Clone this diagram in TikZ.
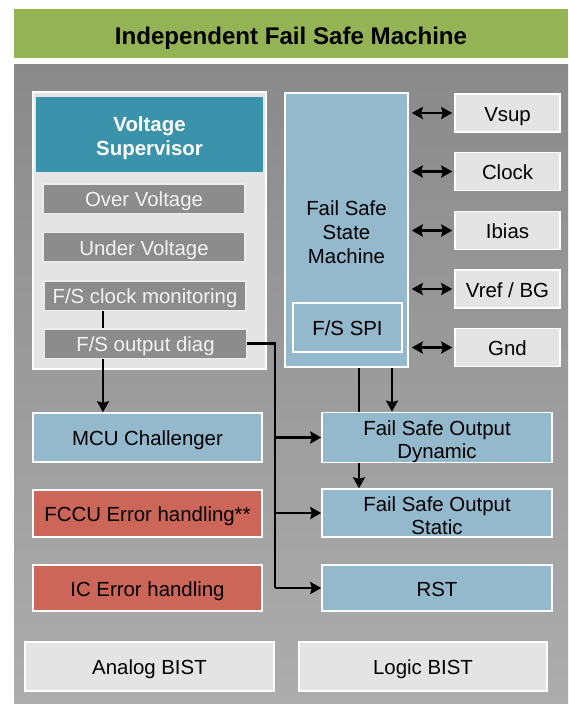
\documentclass[tikz,border=0pt]{standalone}
\usepackage{fontspec}
\setmainfont{Liberation Sans}
\usetikzlibrary{arrows.meta}
\definecolor{titlegreen}{HTML}{94B355}
\definecolor{headteal}{HTML}{3A93AB}
\definecolor{paleblue}{HTML}{94B8CC}
\definecolor{errred}{HTML}{CC6659}
\definecolor{lightbox}{HTML}{E4E4E4}
\definecolor{darkbox}{HTML}{8C8C8C}
\definecolor{bgtop}{HTML}{8A8A8A}
\definecolor{bgbottom}{HTML}{ADADAD}
% strut that lowers a multi-line label inside its box
\newcommand{\lowerby}[1]{\rule{0pt}{\dimexpr 15pt+#1\relax}}
\tikzset{
  blk/.style={draw=white, line width=1.5pt, inner sep=0pt, align=center,
    font=\fontsize{20.4}{23.5}\selectfont},
  oneline/.style={text height=20pt, text depth=3.2pt},
  bluebox/.style={blk, fill=paleblue},
  redbox/.style={blk, fill=errred},
  greybox/.style={blk, fill=lightbox},
  monbox/.style={blk, oneline, draw=white!92!black, fill=darkbox, text=white!95!black,
    minimum width=202pt, minimum height=29.5pt},
  pinbox/.style={greybox, oneline, minimum width=105pt, minimum height=38pt},
  wire/.style={line width=2.5pt, black},
  tip/.tip={Stealth[length=11pt,width=12pt,inset=1.5pt]},
  arr/.style={wire, -tip},
  darr/.style={wire, tip-tip, shorten <=3pt, shorten >=2pt}
}
\begin{document}
\begin{tikzpicture}[x=1pt,y=-1pt]
\useasboundingbox (0,0) rectangle (568,704);
\fill[white] (0,0) rectangle (568,704);

% title bar and shaded panel
\node[fill=titlegreen, minimum width=554pt, minimum height=49pt, inner sep=0pt,
  text height=26pt, text depth=3.4pt,
  font=\bfseries\fontsize{24.1}{28}\selectfont] (title) at (291,33.5)
  {Independent Fail Safe Machine};
\shade[top color=bgtop, bottom color=bgbottom] (14,64) rectangle (568,704);

% voltage supervisor block
\node[blk, fill=lightbox, minimum width=233pt, minimum height=277pt] (vs) at (149.5,230.5) {};
\node[fill=headteal, text=white, inner sep=0pt, align=center,
  font=\bfseries\fontsize{20.4}{24}\selectfont,
  minimum width=227pt, minimum height=75pt] (vshead) at (149.5,134.5)
  {\lowerby{8pt}Voltage\\Supervisor};
\node[monbox] (ov)  at (144,198.5) {Over Voltage};
\node[monbox] (uv)  at (144,247)   {Under Voltage};
\node[monbox] (clk) at (145,295.5) {F/S clock monitoring};
\node[monbox] (od)  at (145.5,343.5) {F/S output diag};

% fail safe state machine
\node[bluebox, minimum width=123pt, minimum height=274pt, font=\fontsize{20.4}{24}\selectfont]
  (fssm) at (346.5,230) {\lowerby{4pt}Fail Safe\\State\\Machine};
\node[bluebox, oneline, minimum width=109pt, minimum height=49pt] (spi) at (347.5,327.5) {F/S SPI};

% supply / reference pins
\node[pinbox] (vsup) at (507.5,113)   {Vsup};
\node[pinbox] (clock) at (507.5,171.5) {Clock};
\node[pinbox] (ibias) at (507.5,230.5) {Ibias};
\node[pinbox] (vref) at (507.5,289)   {Vref / BG};
\node[pinbox] (gnd)  at (507.5,347.5) {Gnd};

% lower function blocks
\node[bluebox, oneline, minimum width=229pt, minimum height=49pt] (mcu)  at (147.5,437.5) {MCU Challenger};
\node[redbox,  oneline, minimum width=229pt, minimum height=47pt] (fccu) at (147.5,513.5) {FCCU Error handling**};
\node[redbox,  oneline, minimum width=229pt, minimum height=46pt] (ic)   at (147.5,588)   {IC Error handling};
\node[bluebox, minimum width=230pt, minimum height=49pt, font=\fontsize{20.4}{23}\selectfont]
  (fsod) at (437,437.5) {\lowerby{8pt}Fail Safe Output\\Dynamic};
\node[bluebox, minimum width=230pt, minimum height=48pt, font=\fontsize{20.4}{23}\selectfont]
  (fsos) at (437,513) {\lowerby{5pt}Fail Safe Output\\Static};
\node[bluebox, oneline, minimum width=230pt, minimum height=46pt] (rst) at (437,588) {RST};

% built-in self tests
\node[greybox, oneline, minimum width=249pt, minimum height=49pt] (abist) at (149.5,666.5) {Analog BIST};
\node[greybox, oneline, minimum width=248pt, minimum height=49pt] (lbist) at (423,666.5) {Logic BIST};

% connections
\coordinate (busx) at (275,0);
\coordinate (mon) at (103,0);
\draw[wire] (clk.south -| mon) -- (od.north -| mon);
\draw[arr] (od.south -| mon) -- (mcu.north -| mon);
\draw[wire] (od.east) -| (busx |- rst.west);
\draw[arr] (busx |- rst.west) -- (rst.west);
\draw[arr] (busx |- fsod.west) -- (fsod.west);
\draw[arr] (busx |- fsos.west) -- (fsos.west);

\coordinate (ta) at (359,0);
\coordinate (tb) at (392,0);
\draw[wire] (fssm.south -| ta) -- (fsod.north -| ta);
\draw[arr] (fssm.south -| tb) -- (fsod.north -| tb);
\draw[arr] (fsod.south -| ta) -- (fsos.north -| ta);

\foreach \p in {vsup,clock,ibias,vref,gnd}
  \draw[darr] (fssm.east |- \p.west) -- (\p.west);
\end{tikzpicture}
\end{document}
